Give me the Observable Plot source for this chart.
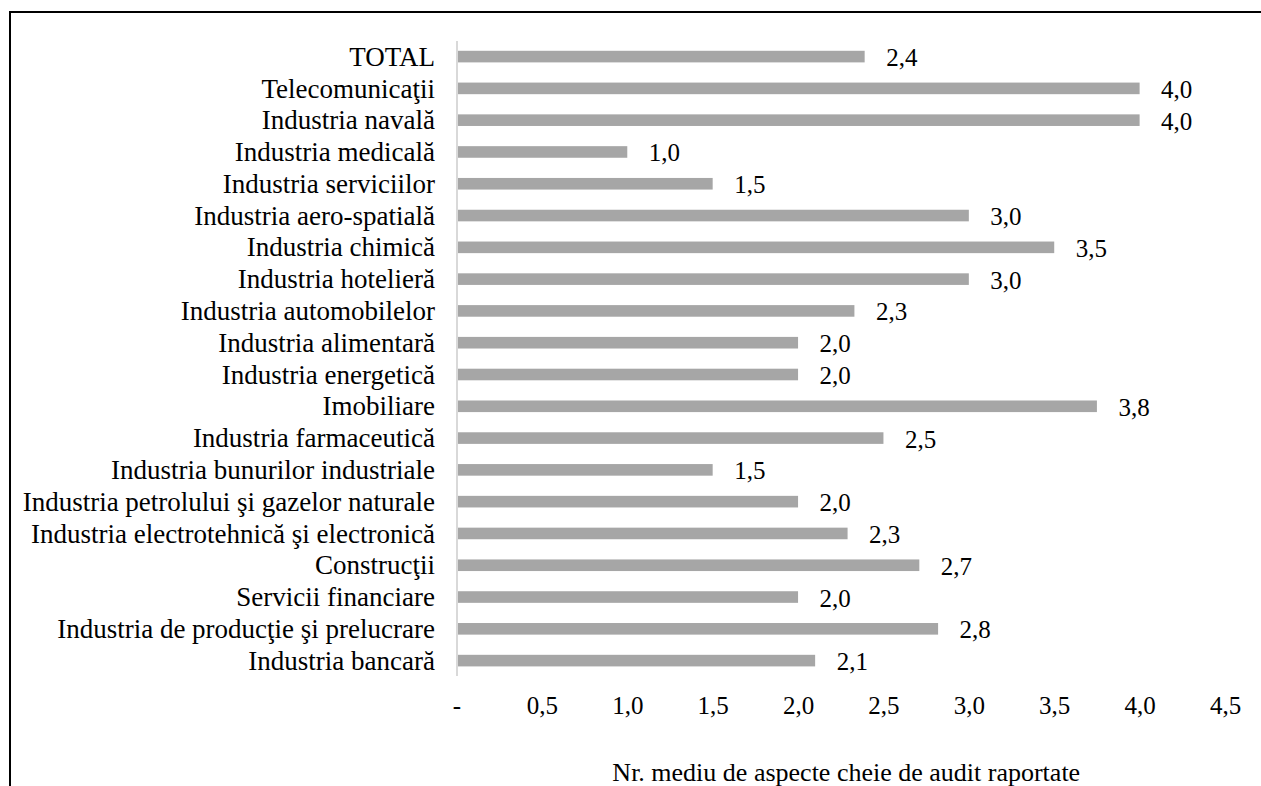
<!DOCTYPE html>
<html>
<head>
<meta charset="utf-8">
<script src="https://cdn.jsdelivr.net/npm/d3@7"></script>
<script src="https://cdn.jsdelivr.net/npm/@observablehq/plot@0.6"></script>
<style>
  html, body { margin: 0; padding: 0; background: #fff; overflow: hidden; }
  #wrap { position: relative; width: 1261px; height: 786px; }
  #frame { position: absolute; left: 9px; top: 11px; width: 1400px; height: 900px;
           border-left: 2px solid #000; border-top: 2px solid #000; pointer-events: none; }
  #wrap svg, #wrap svg text { font-family: "Liberation Serif", "Times New Roman", serif !important; }
</style>
</head>
<body>
<div id="wrap"><div id="frame"></div></div>
<script>
const categories = [
  "TOTAL",
  "Telecomunicaţii",
  "Industria navală",
  "Industria medicală",
  "Industria serviciilor",
  "Industria aero-spatială",
  "Industria chimică",
  "Industria hotelieră",
  "Industria automobilelor",
  "Industria alimentară",
  "Industria energetică",
  "Imobiliare",
  "Industria farmaceutică",
  "Industria bunurilor industriale",
  "Industria petrolului şi gazelor naturale",
  "Industria electrotehnică şi electronică",
  "Construcţii",
  "Servicii financiare",
  "Industria de producţie şi prelucrare",
  "Industria bancară"
];
const values = [2.39, 4.0, 4.0, 1.0, 1.5, 3.0, 3.5, 3.0, 2.33, 2.0, 2.0, 3.75, 2.5, 1.5, 2.0, 2.29, 2.71, 2.0, 2.82, 2.1];
const xTicks = [0, 0.5, 1.0, 1.5, 2.0, 2.5, 3.0, 3.5, 4.0, 4.5];
const xTitle = "Nr. mediu de aspecte cheie de audit raportate";

const data = categories.map((c, i) => ({category: c, value: values[i]}));
const fmt = v => d3.format(".1f")(v).replace(".", ",");

const chart = Plot.plot({
  width: 1261,
  height: 786,
  marginLeft: 456.5,
  marginRight: 36,
  marginTop: 41,
  marginBottom: 110,
  style: {fontFamily: "Liberation Serif, serif", fontSize: "26px", color: "#000", background: "transparent"},
  x: {domain: [0, 4.5]},
  y: {domain: categories, range: [30.6, 686.6], padding: 0.635, round: false},
  marks: [
    Plot.barX(data, {x: "value", y: "category", fill: "#a6a6a6"}),
    Plot.ruleX([0], {stroke: "#d9d9d9", strokeWidth: 2}),
    Plot.text(data, {x: "value", y: "category", text: d => fmt(d.value), dx: 21, dy: 1, textAnchor: "start", fontSize: 25, fill: "#000"}),
    Plot.axisY({tickSize: 0, tickPadding: 22, fontSize: 27, label: null}),
    Plot.axisX({ticks: xTicks, tickFormat: d => d === 0 ? "-" : fmt(d), tickSize: 0, tickPadding: 20, fontSize: 25, label: null}),
    Plot.text([xTitle], {frameAnchor: "bottom", lineAnchor: "middle", dy: 96, dx: 5, fontSize: 26, fill: "#000"})
  ]
});
chart.style.position = "absolute";
chart.style.left = "0px";
chart.style.top = "0px";
document.getElementById("wrap").appendChild(chart);
</script>
</body>
</html>
